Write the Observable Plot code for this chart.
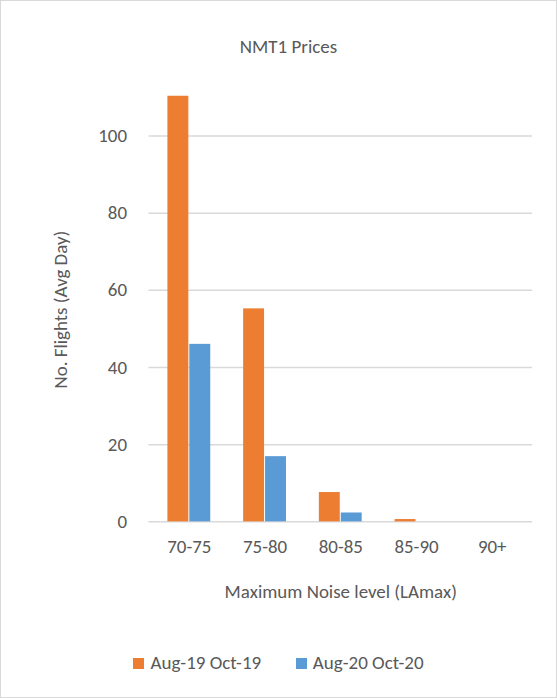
<!DOCTYPE html>
<html>
<head>
<meta charset="utf-8">
<script src="https://cdn.jsdelivr.net/npm/d3@7"></script>
<script src="https://cdn.jsdelivr.net/npm/@observablehq/plot@0.6"></script>
<style>
  body { margin: 0; font-family: Calibri, Carlito, "Liberation Sans", sans-serif; }
  #frame { position: relative; width: 555px; height: 696px; border: 1px solid #d9d9d9; background: #fff; }
  #title { position: absolute; top: 34px; width: 100%; text-align: center; font-size: 19px; color: #595959; margin-left: 10px; }
  #chart { position: absolute; top: 70px; left: 0; }
  #legend { position: absolute; top: 650px; left: 0; width: 100%; text-align: center; font-size: 19px; color: #595959; }
  .sw { display: inline-block; width: 11px; height: 11px; margin-right: 6px; vertical-align: 0px; }
</style>
</head>
<body>
<div id="frame">
  <div id="title">NMT1 Prices</div>
  <div id="chart"></div>
  <div id="legend">
    <span class="sw" style="background:#ed7d31"></span>Aug-19 Oct-19
    <span style="display:inline-block;width:26px"></span>
    <span class="sw" style="background:#5b9bd5"></span>Aug-20 Oct-20
  </div>
</div>
<script>
const categories = ['70-75', '75-80', '80-85', '85-90', '90+']
const series = ['Aug-19 Oct-19', 'Aug-20 Oct-20']
const values2019 = [110.3, 55.2, 7.6, 0.6, 0]
const values2020 = [46, 16.9, 2.3, 0, 0]

const data2019 = categories.map((c, i) => ({cat: c, serie: series[0], value: values2019[i]}))
const data2020 = categories.map((c, i) => ({cat: c, serie: series[1], value: values2020[i]}))

const chart = Plot.plot({
  width: 557,
  height: 540,
  marginTop: 26,
  marginLeft: 148,
  marginRight: 24,
  marginBottom: 88,
  style: {fontSize: '19px', color: '#595959', fontFamily: 'Calibri, Carlito, "Liberation Sans", sans-serif'},
  x: {domain: categories, paddingInner: 0.43, paddingOuter: 0.22, label: null},
  y: {domain: [0, 110]},
  color: {domain: series, range: ['#ed7d31', '#5b9bd5']},
  marks: [
    Plot.gridY([0, 20, 40, 60, 80, 100], {stroke: '#d9d9d9', strokeOpacity: 1, strokeWidth: 1.5}),
    Plot.barY(data2019, {x: 'cat', y: 'value', fill: 'serie', insetRight: 22}),
    Plot.barY(data2020, {x: 'cat', y: 'value', fill: 'serie', insetLeft: 22}),
    Plot.axisY({ticks: [0, 20, 40, 60, 80, 100], tickSize: 0, tickPadding: 22, label: 'No. Flights (Avg Day)', labelAnchor: 'center', labelArrow: 'none', labelOffset: 96}),
    Plot.axisX({tickSize: 0, tickPadding: 18, label: 'Maximum Noise level (LAmax)', labelAnchor: 'center', labelArrow: 'none', labelOffset: 76}),
  ],
})
d3.select('#chart').append(() => chart)
</script>
</body>
</html>
